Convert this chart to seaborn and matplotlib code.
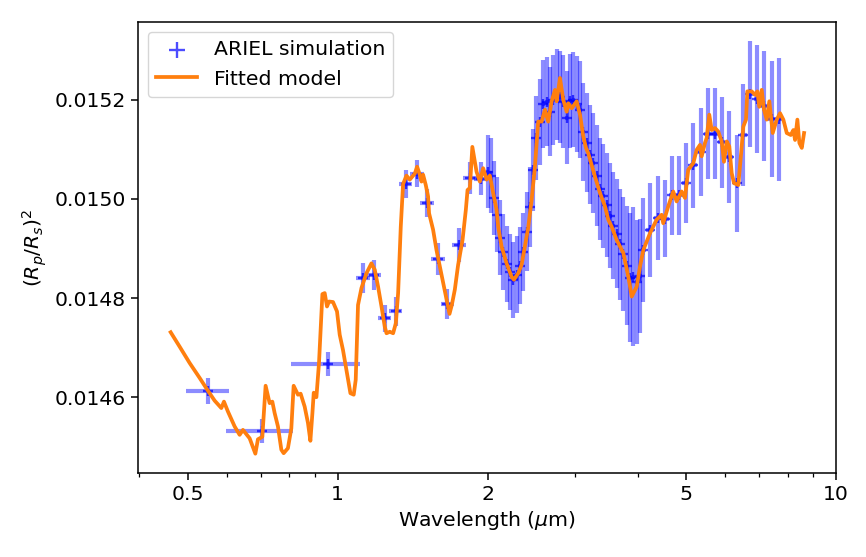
import matplotlib
matplotlib.use("Agg")
import matplotlib.pyplot as plt
from matplotlib.ticker import FixedLocator, FixedFormatter, NullFormatter
import seaborn as sns
import pandas as pd

# ---------------- data ----------------
# Fitted model (high resolution)
wl_model = [0.4622, 0.4817, 0.5045, 0.5283, 0.5490, 0.5663, 0.5841, 0.5912, 0.6022, 0.6211,
            0.6356, 0.6454, 0.6657, 0.6835, 0.6917, 0.7059, 0.7167, 0.7301, 0.7393, 0.7472,
            0.7587, 0.7707, 0.7790, 0.7945, 0.8071, 0.8158, 0.8322, 0.8426, 0.8584, 0.8716,
            0.8814, 0.8897, 0.8952, 0.9063, 0.9172, 0.9317, 0.9417, 0.9517, 0.9606, 0.9785,
            0.9968, 1.0093, 1.0248, 1.0439, 1.0605, 1.0768, 1.0868, 1.0984, 1.1159, 1.1420,
            1.1687, 1.1868, 1.2051, 1.2242, 1.2431, 1.2529, 1.2722, 1.2918, 1.3080, 1.3220,
            1.3383, 1.3526, 1.3740, 1.3952, 1.4278, 1.4431, 1.4612, 1.4727, 1.4836, 1.5022,
            1.5183, 1.5253, 1.5538, 1.5784, 1.6027, 1.6274, 1.6532, 1.6763, 1.6943, 1.7180,
            1.7444, 1.7803, 1.8077, 1.8220, 1.8415, 1.8629, 1.8994, 1.9286, 1.9583, 1.9893,
            2.0199, 2.0510, 2.0835, 2.0990, 2.1323, 2.1822, 2.2332, 2.2570, 2.3024, 2.3389,
            2.3749, 2.4114, 2.4497, 2.4874, 2.5257, 2.5658, 2.6052, 2.6453, 2.6873, 2.7287,
            2.7502, 2.7925, 2.8355, 2.8805, 2.9019, 2.9479, 3.0169, 3.0632, 3.1104, 3.1495,
            3.1832, 3.2231, 3.2832, 3.3600, 3.4385, 3.4914, 3.5468, 3.6298, 3.7423, 3.8298,
            3.8906, 3.9815, 4.0428, 4.1050, 4.2343, 4.3638, 4.4668, 4.5000, 4.6052, 4.7128,
            4.7876, 4.8997, 4.9752, 5.0517, 5.1699, 5.2519, 5.3327, 5.3747, 5.4575, 5.5005,
            5.5670, 5.6292, 5.7158, 5.8037, 5.8958, 5.9589, 6.0337, 6.1066, 6.1748, 6.2408,
            6.3662, 6.4671, 6.5152, 6.5970, 6.6368, 6.7731, 6.8772, 6.9508, 7.0154, 7.0936,
            7.1695, 7.2595, 7.3473, 7.4639, 7.6032, 7.7203, 7.8392, 7.9635, 8.1126, 8.2107,
            8.2754, 8.3640, 8.4418, 8.5359, 8.6272]
depth_model = [0.014731, 0.014702, 0.014669, 0.014639, 0.014613, 0.014593, 0.014578, 0.014591, 0.014571, 0.014541,
               0.014524, 0.014534, 0.014517, 0.014486, 0.014515, 0.014520, 0.014623, 0.014588, 0.014591, 0.014568,
               0.014541, 0.014494, 0.014487, 0.014497, 0.014537, 0.014623, 0.014605, 0.014607, 0.014581, 0.014548,
               0.014512, 0.014568, 0.014609, 0.014600, 0.014669, 0.014808, 0.014810, 0.014783, 0.014793, 0.014792,
               0.014773, 0.014726, 0.014695, 0.014648, 0.014608, 0.014605, 0.014635, 0.014786, 0.014820, 0.014850,
               0.014870, 0.014857, 0.014823, 0.014783, 0.014742, 0.014729, 0.014732, 0.014729, 0.014749, 0.014810,
               0.014944, 0.015030, 0.015047, 0.015039, 0.015051, 0.015065, 0.015049, 0.015035, 0.015049, 0.015028,
               0.015005, 0.014971, 0.014938, 0.014897, 0.014864, 0.014830, 0.014796, 0.014768, 0.014786, 0.014817,
               0.014867, 0.014917, 0.014978, 0.015018, 0.015022, 0.015105, 0.015055, 0.015035, 0.015062, 0.015039,
               0.015047, 0.015012, 0.014978, 0.014944, 0.014904, 0.014870, 0.014843, 0.014837, 0.014850, 0.014867,
               0.014904, 0.014942, 0.014998, 0.015065, 0.015156, 0.015156, 0.015180, 0.015156, 0.015197, 0.015220,
               0.015197, 0.015244, 0.015200, 0.015176, 0.015193, 0.015183, 0.015197, 0.015170, 0.015126, 0.015103,
               0.015092, 0.015073, 0.015045, 0.015012, 0.014985, 0.014958, 0.014944, 0.014917, 0.014891, 0.014843,
               0.014803, 0.014823, 0.014864, 0.014897, 0.014931, 0.014958, 0.014968, 0.014951, 0.014985, 0.015015,
               0.014995, 0.015015, 0.015002, 0.015059, 0.015072, 0.015099, 0.015109, 0.015086, 0.015113, 0.015123,
               0.015170, 0.015139, 0.015143, 0.015136, 0.015116, 0.015075, 0.015116, 0.015106, 0.015052, 0.015032,
               0.015028, 0.015106, 0.015146, 0.015160, 0.015217, 0.015217, 0.015210, 0.015217, 0.015186, 0.015220,
               0.015180, 0.015160, 0.015197, 0.015133, 0.015160, 0.015173, 0.015160, 0.015133, 0.015129, 0.015139,
               0.015119, 0.015160, 0.015113, 0.015103, 0.015133]

# ARIEL simulated points: photometric / low resolution (asymmetric bin widths)
wl_low = [0.549, 0.705, 0.958]
depth_low = [0.014613, 0.014532, 0.014667]
err_low = [2.6e-5, 2.4e-5, 2.4e-5]
wlerr_low_minus = [0.053, 0.107, 0.153]
wlerr_low_plus = [0.056, 0.108, 0.149]

# mid resolution
wl_mid = [1.1241, 1.1830, 1.2431, 1.3062, 1.3696, 1.4444, 1.5105, 1.5901, 1.6593, 1.7525, 1.8441, 1.9376]
depth_mid = [0.014840, 0.014847, 0.014759, 0.014773, 0.015030, 0.015051, 0.014992, 0.014879, 0.014788,
             0.014907, 0.015042, 0.015041]
err_mid = [3.0e-5, 3.0e-5, 2.7e-5, 3.0e-5, 2.9e-5, 2.7e-5, 2.9e-5, 3.2e-5, 3.0e-5, 3.4e-5, 3.2e-5, 3.3e-5]
wlerr_mid = [0.035, 0.037, 0.039, 0.040, 0.042, 0.045, 0.047, 0.049, 0.051, 0.054, 0.057, 0.060]

# dense channel
wl_dense = [2.0008, 2.0288, 2.0620, 2.0912, 2.1204, 2.1500, 2.1852, 2.2157, 2.2497, 2.2854,
            2.3205, 2.3562, 2.3936, 2.4304, 2.4679, 2.5046, 2.5455, 2.5848, 2.6258, 2.6662,
            2.7072, 2.7502, 2.7925, 2.8355, 2.8805, 2.9248, 2.9698, 3.0169, 3.0632, 3.1104,
            3.1597, 3.2082, 3.2575, 3.3092, 3.3600, 3.4117, 3.4658, 3.5191, 3.5733, 3.6298,
            3.6857, 3.7423, 3.8016, 3.8601, 3.9195, 3.9815, 4.0428, 4.1050, 4.2343, 4.3961]
depth_dense = [0.015055, 0.015047, 0.015002, 0.014968, 0.014922, 0.014893, 0.014869, 0.014853, 0.014837, 0.014847,
               0.014865, 0.014893, 0.014934, 0.014984, 0.015059, 0.015123, 0.015156, 0.015192, 0.015196, 0.015176,
               0.015200, 0.015210, 0.015206, 0.015196, 0.015164, 0.015198, 0.015200, 0.015192, 0.015180, 0.015135,
               0.015113, 0.015089, 0.015073, 0.015047, 0.015020, 0.015006, 0.014988, 0.014966, 0.014946, 0.014930,
               0.014909, 0.014889, 0.014865, 0.014841, 0.014843, 0.014833, 0.014845, 0.014897, 0.014938, 0.014962]
err_dense = [7.4e-5, 7.5e-5, 7.5e-5, 7.6e-5, 7.6e-5, 7.6e-5, 7.7e-5, 7.7e-5, 7.7e-5, 7.8e-5,
             7.8e-5, 7.9e-5, 8.0e-5, 8.1e-5, 8.3e-5, 8.5e-5, 8.7e-5, 8.9e-5, 9.0e-5, 9.0e-5,
             9.1e-5, 9.2e-5, 9.3e-5, 9.4e-5, 9.4e-5, 9.5e-5, 9.6e-5, 9.7e-5, 9.8e-5, 9.9e-5,
             1.00e-4, 1.00e-4, 1.01e-4, 1.02e-4, 1.03e-4, 1.04e-4, 1.05e-4, 1.06e-4, 1.08e-4, 1.10e-4,
             1.12e-4, 1.15e-4, 1.20e-4, 1.30e-4, 1.40e-4, 1.25e-4, 1.15e-4, 1.05e-4, 9.5e-5, 8.5e-5]
wlerr_dense = [0.0154, 0.0156, 0.0159, 0.0161, 0.0163, 0.0166, 0.0168, 0.0171, 0.0173, 0.0176,
               0.0179, 0.0181, 0.0184, 0.0187, 0.0190, 0.0193, 0.0196, 0.0199, 0.0202, 0.0205,
               0.0208, 0.0212, 0.0215, 0.0218, 0.0222, 0.0225, 0.0229, 0.0232, 0.0236, 0.0239,
               0.0243, 0.0247, 0.0251, 0.0255, 0.0259, 0.0263, 0.0267, 0.0271, 0.0275, 0.0279,
               0.0284, 0.0288, 0.0293, 0.0297, 0.0302, 0.0307, 0.0311, 0.048, 0.073, 0.076]

# longer-wavelength channel (sparser)
wl_ir = [4.5355, 4.6911, 4.8455, 4.9965, 5.1699, 5.3499, 5.5260, 5.7158, 5.8958, 6.1066,
         6.3192, 6.5152, 6.7201, 6.9508, 7.1794, 7.4294, 7.6847]
depth_ir = [0.014960, 0.015007, 0.015007, 0.015032, 0.015068, 0.015094, 0.015132, 0.015132, 0.015114, 0.015085,
            0.015032, 0.015129, 0.015211, 0.015202, 0.015188, 0.015162, 0.015161]
err_ir = [7.8e-5, 7.9e-5, 7.9e-5, 8.0e-5, 8.6e-5, 8.9e-5, 9.2e-5, 9.2e-5, 9.2e-5, 9.3e-5,
          9.8e-5, 1.03e-4, 1.07e-4, 1.09e-4, 1.11e-4, 1.17e-4, 1.24e-4]
wlerr_ir = [0.076, 0.078, 0.081, 0.083, 0.086, 0.089, 0.092, 0.095, 0.098, 0.102,
            0.106, 0.109, 0.112, 0.116, 0.120, 0.124, 0.128]

x_major = [0.5, 1, 2, 5, 10]
x_major_labels = ["0.5", "1", "2", "5", "10"]
x_minor = [0.4, 0.6, 0.7, 0.8, 0.9, 3, 4, 6, 7, 8, 9]
y_ticks = [0.0146, 0.0148, 0.0150, 0.0152]
y_tick_labels = ["0.0146", "0.0148", "0.0150", "0.0152"]

# ---------------- tables ----------------
obs = pd.DataFrame({
    "wl": wl_low + wl_mid + wl_dense + wl_ir,
    "depth": depth_low + depth_mid + depth_dense + depth_ir,
    "err": err_low + err_mid + err_dense + err_ir,
    "xlo": wlerr_low_minus + wlerr_mid + wlerr_dense + wlerr_ir,
    "xhi": wlerr_low_plus + wlerr_mid + wlerr_dense + wlerr_ir,
})
model = pd.DataFrame({"wl": wl_model, "depth": depth_model})

# ---------------- plotting ----------------
plt.rcParams['font.family'] = ['DejaVu Sans']
plt.rcParams['mathtext.fontset'] = 'dejavusans'
plt.rcParams['text.color'] = 'black'
plt.rcParams['axes.labelcolor'] = 'black'
plt.rcParams['xtick.color'] = 'black'
plt.rcParams['ytick.color'] = 'black'
fs = 14.7

fig = plt.figure(figsize=(8.66, 5.57), dpi=100, facecolor="white")
ax = fig.add_axes([0.1594, 0.1508, 0.8060, 0.8097])
ax.set_facecolor("white")
ax.set_xscale("log")

ax.errorbar(obs["wl"], obs["depth"], yerr=obs["err"], xerr=[obs["xlo"], obs["xhi"]],
            fmt="none", ecolor="blue", alpha=0.45, elinewidth=3.0, capsize=0, zorder=1)
sns.scatterplot(data=obs, x="wl", y="depth", marker="+", color="blue", s=60,
                linewidth=1.7, alpha=0.7, label="ARIEL simulation", ax=ax, zorder=2)
sns.lineplot(data=model, x="wl", y="depth", sort=False, estimator=None,
             color="#ff7f0e", linewidth=2.7, label="Fitted model", ax=ax, zorder=3)

ax.set_xlim(0.3975, 10)
ax.set_ylim(0.014447, 0.015357)

ax.xaxis.set_major_locator(FixedLocator(x_major))
ax.xaxis.set_major_formatter(FixedFormatter(x_major_labels))
ax.xaxis.set_minor_locator(FixedLocator(x_minor))
ax.xaxis.set_minor_formatter(NullFormatter())
ax.yaxis.set_major_locator(FixedLocator(y_ticks))
ax.yaxis.set_major_formatter(FixedFormatter(y_tick_labels))
ax.yaxis.set_minor_locator(FixedLocator([]))

ax.tick_params(axis="both", which="major", length=5, width=1.1, labelsize=fs,
               color="black", labelcolor="black", direction="out")
ax.tick_params(axis="both", which="minor", length=3.2, width=0.9, color="black", direction="out")
for sp in ax.spines.values():
    sp.set_linewidth(1.1)
    sp.set_color("black")
    sp.set_visible(True)

ax.set_xlabel("Wavelength ($\\mu$m)", fontsize=fs, color="black")
ax.set_ylabel("$(R_p/R_s)^2$", fontsize=fs, color="black")
ax.grid(False)

leg = ax.legend(loc="upper left", fontsize=fs, frameon=True, markerscale=1.4)

fig.savefig("out.png", dpi=100, facecolor="white")
